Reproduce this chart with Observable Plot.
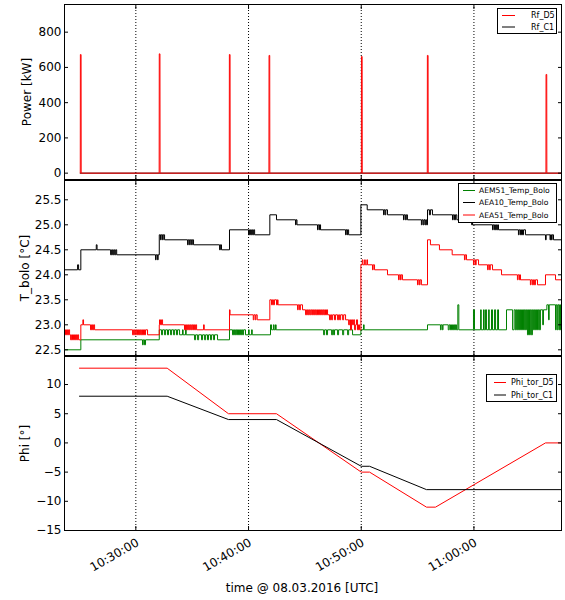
<!DOCTYPE html>
<html>
<head>
<meta charset="utf-8">
<script src="https://cdn.jsdelivr.net/npm/d3@7"></script>
<script src="https://cdn.jsdelivr.net/npm/@observablehq/plot@0.6"></script>
<style>
  html, body { margin: 0; padding: 0; background: #fff; }
  #chart { position: relative; width: 565px; height: 600px; overflow: hidden; font-family: "DejaVu Sans", sans-serif; }
  #chart svg.panel { position: absolute; left: 0; }
  #chart .xlabel { position: absolute; left: 102px; width: 400px; top: 581px; text-align: center; font-size: 12px; color: #000; }
</style>
</head>
<body>
<div id="chart"></div>
<script>
// Time is stored as minutes after 10:00 UTC on 08.03.2016
const xRange = [23.67, 67.77];
const timeTicks = [30, 40, 50, 60];

// ---- Panel 1: Power [kW]
const powerTicks = [0, 200, 400, 600, 800];
const powerDomain = [-36, 957];
const powerNames = ["Rf_D5", "Rf_C1"];
const rfD5 = [
  [25.07, 0], [25.08, 673], [25.14, 673], [25.15, 0],
  [32.07, 0], [32.08, 677], [32.14, 677], [32.15, 0],
  [38.29, 0], [38.30, 673], [38.36, 673], [38.37, 0],
  [41.81, 0], [41.82, 668], [41.88, 668], [41.89, 0],
  [50.01, 0], [50.02, 662], [50.08, 662], [50.09, 0],
  [55.86, 0], [55.87, 668], [55.93, 668], [55.94, 0],
  [66.39, 0], [66.40, 560], [66.46, 560], [66.47, 0],
  [67.77, 0]
];
const rfC1 = [[25.07, 0], [67.77, 0]];

// ---- Panel 2: T_bolo [°C]
const tempTicks = [22.5, 23.0, 23.5, 24.0, 24.5, 25.0, 25.5];
const tempDomain = [22.386, 25.886];
const boloNames = ["AEM51_Temp_Bolo", "AEA10_Temp_Bolo", "AEA51_Temp_Bolo"];
const boloAEM51 = [
  [23.67,22.5],[25.12,22.7],
  [30.59,22.6],[30.66,22.7],[30.77,22.6],[30.86,22.7],
  [32.08,22.9],
  [32.28,22.8],[32.37,22.9],[32.55,22.8],[32.64,22.9],[32.81,22.8],[32.90,22.9],[33.08,22.8],[33.17,22.9],[33.35,22.8],[33.44,22.9],[33.61,22.8],[33.70,22.9],[33.88,22.8],
  [34.14,22.9],[34.20,22.8],[34.41,22.9],[34.47,22.8],
  [35.21,22.7],[35.30,22.8],[35.48,22.7],[35.57,22.8],[35.83,22.7],[35.92,22.8],[36.10,22.7],[36.19,22.8],[36.36,22.7],[36.45,22.8],[36.63,22.7],[36.72,22.8],[36.90,22.7],[36.98,22.8],[37.25,22.7],
  [38.31,22.9],
  [38.58,22.8],[38.67,22.9],[38.76,22.8],[38.85,22.9],[38.94,22.8],[39.02,22.9],[39.11,22.8],[39.20,22.9],[39.29,22.8],[39.38,22.9],[39.47,22.8],[39.56,22.9],[39.73,22.8],
  [40.00,22.9],[40.06,22.8],[40.27,22.9],[40.33,22.8],
  [41.95,23.0],[42.04,22.9],[42.21,23.0],[42.27,22.9],[42.39,23.0],[42.45,22.9],
  [46.66,22.8],[46.75,22.9],[46.92,22.8],[47.01,22.9],[47.37,22.8],[47.46,22.9],[47.55,22.8],[47.63,22.9],[47.90,22.8],[47.99,22.9],[48.35,22.8],[48.44,22.9],[48.79,22.8],[48.88,22.9],[49.23,22.8],
  [49.97,22.9],[50.20,23.0],[50.26,22.9],
  [55.88,23.0],
  [57.03,22.9],[57.09,23.0],[57.20,22.9],[57.26,23.0],[57.72,22.9],[57.81,23.0],[57.92,22.9],[58.01,23.0],[58.10,22.9],[58.19,23.0],[58.28,22.9],[58.36,23.0],[58.45,22.9],
  [58.57,23.4],[58.66,22.9],
  [59.96,23.3],[60.05,22.9],
  [60.59,23.3],[60.65,22.9],[60.85,23.3],[60.91,22.9],[61.03,23.3],[61.12,22.9],[61.30,23.3],[61.36,22.9],[61.56,23.3],[61.65,22.9],[61.83,23.3],[61.92,22.9],[62.10,23.3],[62.18,22.9],
  [62.89,23.3],[63.43,22.9],
  [63.57,23.3],[63.68,22.9],[63.77,23.3],[63.86,22.9],[63.95,23.3],[64.04,22.9],[64.13,23.3],[64.22,22.9],[64.31,23.3],[64.40,22.9],[64.48,23.3],[64.57,22.9],[64.66,23.3],[64.75,22.8],[64.84,23.3],[64.93,22.8],[65.01,23.3],[65.10,22.8],[65.19,23.3],[65.28,22.9],[65.37,23.3],[65.46,22.9],[65.55,23.3],[65.64,22.9],[65.72,23.3],[65.81,22.9],[65.90,23.3],
  [66.10,23.0],[66.17,23.3],[66.47,23.4],[66.62,23.1],[66.68,23.4],
  [67.24,22.9],[67.30,23.4],[67.39,22.9],[67.45,23.4],[67.54,22.9],[67.60,23.4],[67.68,22.9],[67.74,23.4],[67.77,23.4]
];
const boloAEA10 = [
  [23.67,24.1],[24.83,24.2],[24.92,24.1],[25.12,24.5],
  [26.49,24.6],[26.56,24.5],
  [27.76,24.4],[27.85,24.5],[27.94,24.4],[28.03,24.5],[28.12,24.4],[28.21,24.5],[28.30,24.4],
  [31.75,24.3],[31.80,24.4],[31.93,24.3],[31.98,24.4],
  [32.08,24.8],[32.19,24.7],[32.25,24.8],[32.37,24.7],[32.43,24.8],[32.55,24.7],
  [34.59,24.6],[34.65,24.7],[34.77,24.6],[34.83,24.7],[34.95,24.6],[35.01,24.7],[35.12,24.6],
  [37.43,24.5],[37.50,24.6],[37.60,24.5],
  [38.31,24.9],
  [40.00,24.8],[40.09,24.9],[40.18,24.8],[40.27,24.9],[40.36,24.8],[40.45,24.9],[40.54,24.8],
  [41.89,25.2],[42.48,25.1],
  [44.17,25.0],[44.22,25.1],[44.30,25.0],
  [46.12,24.9],[46.18,25.0],[46.30,24.9],[46.35,25.0],[46.39,24.9],
  [48.61,24.8],[48.66,24.9],[48.75,24.8],[48.79,24.9],[48.88,24.8],
  [49.97,25.4],[50.53,25.3],
  [51.98,25.2],[52.03,25.3],[52.12,25.2],[52.18,25.3],[52.33,25.2],
  [53.75,25.1],[53.80,25.2],[53.92,25.1],[54.00,25.2],[54.10,25.1],
  [55.34,25.0],[55.40,25.1],[55.50,25.0],[55.57,25.1],[55.66,25.0],[55.72,25.1],[55.80,25.0],
  [55.88,25.3],[56.05,25.2],[56.14,25.3],[56.32,25.2],
  [58.10,25.1],[58.16,25.2],[58.28,25.1],[58.36,25.2],[58.48,25.1],
  [59.80,25.0],[59.85,25.1],[59.88,25.0],
  [61.65,24.9],[61.71,25.0],[61.83,24.9],[61.92,25.0],[62.01,24.9],[62.10,25.0],[62.18,24.9],
  [63.95,24.8],[64.01,24.9],[64.13,24.8],[64.22,24.9],[64.31,24.8],[64.40,24.9],[64.57,24.8],
  [66.35,24.7],[66.41,24.8],[66.75,24.7],[66.80,24.8],[66.88,24.7],[66.94,24.8],[67.06,24.7],
  [67.77,24.7]
];
const boloAEA51 = [
  [23.67,22.9],[23.76,22.8],[23.85,22.9],[23.94,22.8],[24.03,22.9],[24.12,22.8],
  [24.21,22.7],[24.30,22.8],[24.38,22.7],[24.47,22.8],[24.56,22.7],[24.65,22.8],[24.74,22.7],[24.83,22.8],[24.92,22.7],
  [25.12,23.0],[25.30,23.1],[25.36,23.0],
  [25.98,22.9],[26.07,23.0],[26.16,22.9],[26.25,23.0],[26.34,22.9],
  [29.71,22.8],[29.80,22.9],[29.89,22.8],[29.98,22.9],[30.07,22.8],[30.15,22.9],[30.24,22.8],[30.33,22.9],[30.42,22.8],[30.51,22.9],[30.59,22.8],[30.68,22.9],[30.77,22.8],[30.86,22.9],[31.04,22.8],
  [32.08,23.0],[32.10,23.1],[32.19,23.0],[32.28,23.1],[32.37,23.0],
  [34.32,22.9],[34.41,23.0],[34.50,22.9],[34.59,23.0],[34.68,22.9],[34.77,23.0],[34.86,22.9],[34.95,23.0],[35.04,22.9],[35.12,23.0],[35.21,22.9],[35.30,23.0],[35.39,22.9],
  [36.01,23.0],[36.07,22.9],
  [38.31,23.3],[38.36,23.2],
  [40.42,23.1],[40.48,23.2],[40.60,23.1],[40.66,23.2],[40.77,23.1],
  [41.89,23.5],[42.04,23.4],[42.12,23.5],[42.21,23.4],[42.30,23.5],[42.48,23.4],[42.57,23.5],[42.62,23.4],
  [44.35,23.3],[44.41,23.4],[44.53,23.3],[44.60,23.4],[44.79,23.3],
  [45.06,23.2],[45.15,23.3],[45.24,23.2],[45.33,23.3],[45.42,23.2],[45.51,23.3],[45.60,23.2],[45.68,23.3],[45.77,23.2],[45.86,23.3],[45.95,23.2],[46.04,23.3],[46.12,23.2],[46.21,23.3],[46.30,23.2],[46.39,23.3],[46.48,23.2],[46.57,23.3],[46.66,23.2],[46.75,23.3],[46.83,23.2],[46.92,23.3],[47.01,23.2],
  [47.19,23.1],[47.28,23.2],[47.37,23.1],[47.46,23.2],[47.63,23.1],[47.72,23.2],[47.90,23.1],[47.99,23.2],[48.08,23.1],[48.17,23.2],[48.35,23.1],[48.44,23.2],[48.61,23.1],
  [48.88,23.0],[48.97,23.1],[49.05,22.9],[49.14,23.1],[49.23,23.0],[49.32,23.1],[49.41,22.9],[49.50,23.0],[49.58,23.1],[49.67,22.9],[49.76,23.0],[49.85,22.9],
  [49.97,24.2],[50.09,24.3],[50.15,24.2],[50.30,24.3],[50.36,24.2],[50.50,24.3],[50.56,24.2],
  [51.00,24.1],[51.06,24.2],[51.18,24.1],
  [52.33,24.0],
  [53.31,23.9],[53.37,24.0],[53.48,23.9],[53.54,24.0],[53.66,23.9],
  [54.99,23.8],[55.05,23.9],[55.16,23.8],[55.22,23.9],[55.34,23.8],
  [55.88,24.7],[56.14,24.6],[56.94,24.5],[58.07,24.4],
  [59.16,24.3],[59.22,24.4],[59.34,24.3],
  [59.96,24.2],[60.02,24.3],[60.14,24.2],[60.20,24.3],[60.41,24.2],
  [61.21,24.1],[61.27,24.2],[61.39,24.1],[61.45,24.2],[61.65,24.1],
  [62.45,24.0],
  [63.86,23.9],[63.92,24.0],[64.04,23.9],[64.10,24.0],[64.13,23.9],
  [65.01,23.8],[65.07,23.9],[65.19,23.8],[65.28,23.9],[65.37,23.8],[65.46,23.9],[65.64,23.8],
  [66.35,24.0],[67.24,23.9],[67.77,23.9]
];

// ---- Panel 3: Phi [°]
const phiTicks = [-15, -10, -5, 0, 5, 10];
const phiDomain = [-15, 14.8];
const phiNames = ["Phi_tor_D5", "Phi_tor_C1"];
const phiD5 = [[25.00,12.8],[32.78,12.8],[38.22,5],[42.48,5],[50.00,-5],[50.74,-5],[55.79,-11],[56.59,-11],[66.35,0],[67.77,0]];
const phiC1 = [[25.00,8],[32.78,8],[38.22,4],[42.48,4],[50.00,-4],[50.74,-4],[55.79,-8],[67.77,-8]];

const xTitle = "time @ 08.03.2016 [UTC]";

// ---------------------------------------------------------------
const T0 = Date.UTC(2016, 2, 8, 10, 0, 0);
const toDate = m => new Date(T0 + m * 60000);
const xTickDates = timeTicks.map(toDate);
const fmtTime = d3.utcFormat("%H:%M:%S");
const minus = d => (d < 0 ? "\u2212" + Math.abs(d) : String(d));

function series(data, stroke, curve) {
  return Plot.line(data, {x: d => toDate(d[0]), y: d => d[1], stroke, strokeWidth: 1, curve, clip: true});
}

function panel({top, height, marginTop, marginBottom, yDomain, yTicks, yFormat, yLabel, labelDx, lines, xLabels}) {
  const svg = Plot.plot({
    width: 565, height, marginLeft: 64, marginRight: 4, marginTop, marginBottom,
    style: {fontFamily: "DejaVu Sans", fontSize: "12px", background: "transparent", overflow: "visible", color: "black"},
    x: {type: "utc", domain: [toDate(xRange[0]), toDate(xRange[1])]},
    y: {domain: yDomain},
    marks: [
      Plot.gridX(xTickDates, {stroke: "black", strokeOpacity: 1, strokeDasharray: "1,2", strokeWidth: 1}),
      ...lines,
      Plot.frame({stroke: "black", strokeWidth: 1}),
      Plot.axisY(yTicks, {anchor: "left", tickSize: 0, tickPadding: 3, tickFormat: yFormat, fontSize: 12, label: null}),
      Plot.axisY(yTicks, {anchor: "left", tickSize: 4, dx: 4, fill: "none", label: null}),
      Plot.axisY(yTicks, {anchor: "right", tickSize: 4, dx: -4, fill: "none", label: null}),
      Plot.axisX(xTickDates, {anchor: "bottom", tickSize: 4, dy: -4, fill: "none", label: null}),
      Plot.axisX(xTickDates, {anchor: "top", tickSize: 4, dy: 4, fill: "none", label: null}),
      Plot.text([yLabel], {text: d => d, frameAnchor: "left", dx: labelDx, rotate: -90, textAnchor: "middle", lineAnchor: "middle", fontSize: 12, fill: "black"}),
      xLabels ? Plot.text(xTickDates, {x: d => d, text: d => fmtTime(d), frameAnchor: "bottom", rotate: -30, textAnchor: "end", lineAnchor: "middle", dy: 11, dx: 2, fontSize: 12, fill: "black"}) : null
    ]
  });
  svg.classList.add("panel");
  svg.style.top = top + "px";
  return svg;
}

function legend(parent, {left, top, width, height, fontSize, sx1, sx2, tx, rows}) {
  const svg = d3.select(parent).append("svg")
    .attr("width", width).attr("height", height)
    .style("position", "absolute").style("left", left + "px").style("top", top + "px")
    .style("font-family", "DejaVu Sans").style("font-size", fontSize + "px");
  svg.append("rect").attr("x", 0.5).attr("y", 0.5).attr("width", width - 1).attr("height", height - 1)
    .attr("fill", "white").attr("stroke", "black").attr("stroke-width", 1);
  for (const r of rows) {
    svg.append("line").attr("x1", sx1).attr("x2", sx2).attr("y1", r.y).attr("y2", r.y)
      .attr("stroke", r.color).attr("stroke-width", 1);
    svg.append("text").attr("x", tx).attr("y", r.y).attr("dy", "0.35em").attr("fill", "black").text(r.label);
  }
}

const chart = document.getElementById("chart");

chart.appendChild(panel({
  top: 0, height: 181, marginTop: 4, marginBottom: 2,
  yDomain: powerDomain, yTicks: powerTicks, yFormat: minus, yLabel: "Power [kW]", labelDx: -37.5,
  lines: [series(rfC1, "black", "linear"), series(rfD5, "red", "linear")]
}));
chart.appendChild(panel({
  top: 178, height: 180, marginTop: 2, marginBottom: 3,
  yDomain: tempDomain, yTicks: tempTicks, yFormat: d => d.toFixed(1), yLabel: "T_bolo [°C]", labelDx: -39.5,
  lines: [series(boloAEM51, "green", "step-after"), series(boloAEA10, "black", "step-after"), series(boloAEA51, "red", "step-after")]
}));
chart.appendChild(panel({
  top: 354, height: 246, marginTop: 2, marginBottom: 70,
  yDomain: phiDomain, yTicks: phiTicks, yFormat: minus, yLabel: "Phi [°]", labelDx: -39,
  lines: [series(phiD5, "red", "linear"), series(phiC1, "black", "linear")],
  xLabels: true
}));

legend(chart, {left: 497, top: 8, width: 60, height: 26, fontSize: 8, sx1: 5, sx2: 18, tx: 34,
  rows: [{label: powerNames[0], color: "red", y: 7.5}, {label: powerNames[1], color: "black", y: 19}]});
legend(chart, {left: 458, top: 183, width: 99, height: 40, fontSize: 7.6, sx1: 5, sx2: 17, tx: 21,
  rows: [{label: boloNames[0], color: "green", y: 7.5}, {label: boloNames[1], color: "black", y: 19.5}, {label: boloNames[2], color: "red", y: 32}]});
legend(chart, {left: 486, top: 374, width: 71, height: 28, fontSize: 8, sx1: 8, sx2: 20, tx: 25,
  rows: [{label: phiNames[0], color: "red", y: 8.5}, {label: phiNames[1], color: "black", y: 21}]});

const xl = document.createElement("div");
xl.className = "xlabel";
xl.textContent = xTitle;
chart.appendChild(xl);
</script>
</body>
</html>
